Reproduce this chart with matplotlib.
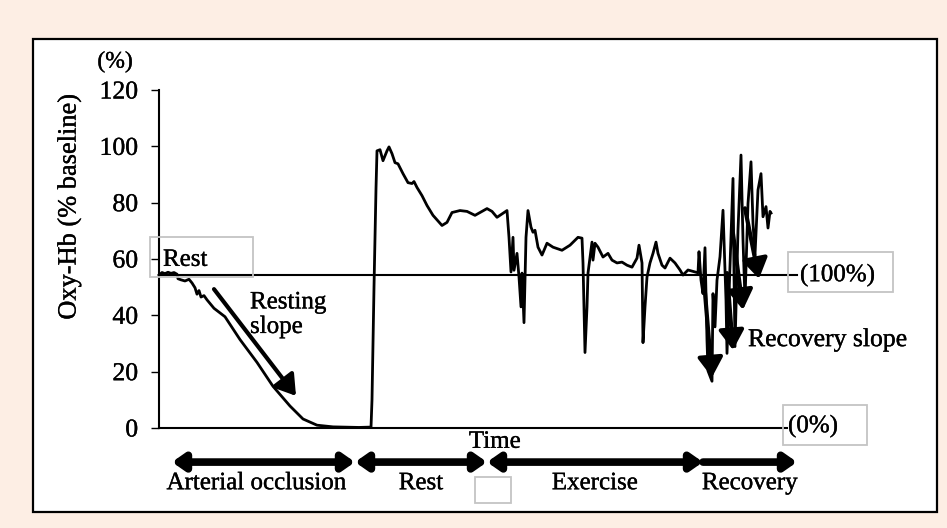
import numpy as np
import matplotlib.pyplot as plt
import matplotlib.patheffects as pe
from matplotlib.patches import Rectangle

plt.rcParams['font.family'] = ['Liberation Serif', 'DejaVu Serif']
plt.rcParams['font.size'] = 18

# time axis has no units on it, t runs 0..640
# arterial occlusion
occl_t = [0, 3, 6, 9, 12, 15, 18, 19, 22, 26, 30, 33, 36, 38, 40, 42, 45, 48,
          55, 66, 81, 98, 114, 131, 144, 158, 174, 190, 200, 210, 212]
occl_v = [54.3, 55.2, 54.8, 55.3, 54.9, 55.2, 54.6, 53.0, 52.6, 52.2, 52.8, 51.5,
          49.8, 47.5, 48.8, 46.5, 47.0, 45.5, 42.5, 39.5, 31.4, 23.3, 14.8, 7.8,
          3.2, 1.0, 0.4, 0.3, 0.2, 0.3, 0.2]
# rest after release
rest_t = [213, 215, 217, 218, 221, 224, 228, 230, 233, 236, 239, 244, 249, 253,
          255, 258, 263, 268, 274, 283, 288, 293, 301, 308, 316, 321, 328, 333,
          338, 348]
rest_v = [10, 50, 85, 98.4, 98.8, 94.9, 98.4, 99.8, 97.4, 94.2, 93.8, 90.3, 87.1,
          86.8, 87.5, 85.4, 82.5, 79.0, 75.5, 71.9, 73.0, 76.5, 77.2, 76.9, 75.5,
          76.5, 77.9, 76.9, 74.8, 77.2]
# exercise
ex_t = [350, 352, 354, 355, 358, 360, 362, 363, 365, 367, 369, 372, 374, 376, 379,
        383, 388, 394, 403, 411, 419, 423, 424, 426, 428, 429, 433, 434, 436, 439,
        444, 449, 453, 458, 463, 468, 473, 478, 480, 483, 484, 486, 488, 491, 494,
        497, 499, 503, 506, 511, 516, 521, 524, 529, 536, 539]
ex_v = [67.7, 55.4, 67.7, 56, 62, 53.6, 43, 55, 37.4, 67.7, 77.2, 71.3, 69.5, 70.2,
        64.2, 61.4, 65.6, 64.2, 63.1, 64.9, 67.7, 67.4, 58.6, 26.8, 43, 55, 66,
        59.6, 65.6, 64.2, 60.7, 62, 59.6, 58.6, 58.9, 57.8, 57.1, 60.3, 64.9, 58.6,
        30.3, 43, 53.6, 58.6, 62, 66, 62, 57.8, 56.8, 60.3, 58.6, 56.1, 54.3, 56.1,
        55.4, 55.1]
# recovery
rec_t = [540, 542, 544, 546, 548, 549, 553, 554, 556, 558, 561, 564, 567, 568, 571,
         574, 575, 576, 579, 582, 584, 586, 589, 592, 594, 596, 599, 602, 604, 607,
         609, 611, 612]
rec_v = [62.6, 52.5, 47.7, 64, 31, 20.3, 16.6, 47.7, 35.9, 52.5, 60.8, 77.3, 45.4,
         26.5, 57.3, 88.6, 55, 28.9, 70.3, 96.9, 66.7, 45.4, 79.7, 94.5, 72.7, 61.5,
         84.5, 90.3, 75, 78.6, 71, 76.9, 76.3]

baseline = 54.3
zero_end = 628
baseline_end = 638

# slope arrows (start, end)
resting_slope = [(55, 49.3), (137, 11.4)]
recovery_start = [(546, 48), (568, 55), (574, 69), (586, 78)]
recovery_end = [(553, 18), (574, 27.7), (584, 42), (600, 53)]

# phases under the time axis
phase_names = ['Arterial occlusion', 'Rest', 'Exercise', 'Recovery']
phase_edges = [13, 196, 328, 544, 638]

t = np.array(occl_t + rest_t + ex_t + rec_t)
v = np.array(occl_v + rest_v + ex_v + rec_v)

W, H = 947, 528
fig = plt.figure(figsize=(W / 100, H / 100), dpi=100)
fig.patch.set_facecolor('#fdeee4')

# slightly heavier glyphs
heavy = [pe.withStroke(linewidth=0.25, foreground='black')]


def fx(x):
    return x / W


def fy(y):
    return 1 - y / H


# white panel with black frame
fig.patches.append(Rectangle((fx(33), fy(512)), (937 - 33) / W, (512 - 39) / H,
                             transform=fig.transFigure, facecolor='white',
                             edgecolor='black', lw=1.6, zorder=-5))

ax = fig.add_axes([fx(159), fy(428), 640 / W, 338 / H])
ax.patch.set_alpha(0)
ax.set_xlim(0, 640)
ax.set_ylim(0, 120)
for s in ['top', 'right', 'bottom']:
    ax.spines[s].set_visible(False)
ax.spines['left'].set_linewidth(1.5)
ax.set_xticks([])
ax.set_yticks(np.arange(0, 121, 20))
ax.tick_params(axis='y', length=6, width=1, pad=9, labelsize=18.5)
for lab in ax.get_yticklabels():
    lab.set_path_effects(heavy)

ax.plot([0, zero_end], [0, 0], color='black', lw=1.5, clip_on=False)
ax.plot([0, baseline_end], [baseline, baseline], color='black', lw=1.5,
        clip_on=False)
ax.plot(t, v, color='black', lw=2.0, clip_on=False)

slope_style = '-|>,head_length=0.5,head_width=0.32'
ax.annotate('', xy=resting_slope[1], xytext=resting_slope[0],
            arrowprops=dict(arrowstyle=slope_style, mutation_scale=24, lw=3,
                            color='black', shrinkA=0, shrinkB=0))
for a, b in zip(recovery_start, recovery_end):
    ax.annotate('', xy=b, xytext=a,
                arrowprops=dict(arrowstyle=slope_style, mutation_scale=24, lw=3,
                                color='black', shrinkA=0, shrinkB=0))

# phase arrows
arrow_y = -12.1
for i, name in enumerate(phase_names):
    x0, x1 = phase_edges[i], phase_edges[i + 1]
    style = '-|>' if name == 'Recovery' else '<|-|>'
    ax.annotate('', xy=(x1, arrow_y), xytext=(x0, arrow_y), annotation_clip=False,
                arrowprops=dict(arrowstyle=style + ',head_length=0.5,head_width=0.35',
                                mutation_scale=14, lw=5.5, color='black',
                                shrinkA=0, shrinkB=0))
    ax.text((x0 + x1) / 2 - (7 if i == 0 else 0), -19.6, name, ha='center',
            va='center', clip_on=False, path_effects=heavy)

ax.text(336, -4.9, 'Time', ha='center', va='center', path_effects=heavy)
ax.set_ylabel('Oxy-Hb (% baseline)', fontsize=19, path_effects=heavy)
ax.yaxis.set_label_coords((81 - 159) / 640, 0.655)

fig.text(fx(115), fy(62), '(%)', ha='center', va='center', fontsize=17,
         path_effects=heavy)

ax.text(4, 59.7, 'Rest', ha='left', va='center', path_effects=heavy)
ax.text(91, 48.5, 'Resting\nslope', ha='left', va='top', linespacing=1.15,
        path_effects=heavy)
ax.text(589, 31.2, 'Recovery slope', ha='left', va='center', fontsize=18.5,
        path_effects=heavy)
ax.text(641, baseline, '(100%)', ha='left', va='center', path_effects=heavy)
ax.text(629, 0.7, '(0%)', ha='left', va='center', path_effects=heavy)

# light grey label frames
for x0, y0, x1, y1 in [(150, 237, 253, 277), (788, 252, 893, 292),
                       (783, 405, 867, 445), (475, 477, 511, 503)]:
    fig.patches.append(Rectangle((fx(x0), fy(y1)), (x1 - x0) / W, (y1 - y0) / H,
                                 transform=fig.transFigure, facecolor='none',
                                 edgecolor='#c4c4c4', lw=1.3, zorder=1))

plt.savefig('out.png', dpi=100, facecolor=fig.get_facecolor())
